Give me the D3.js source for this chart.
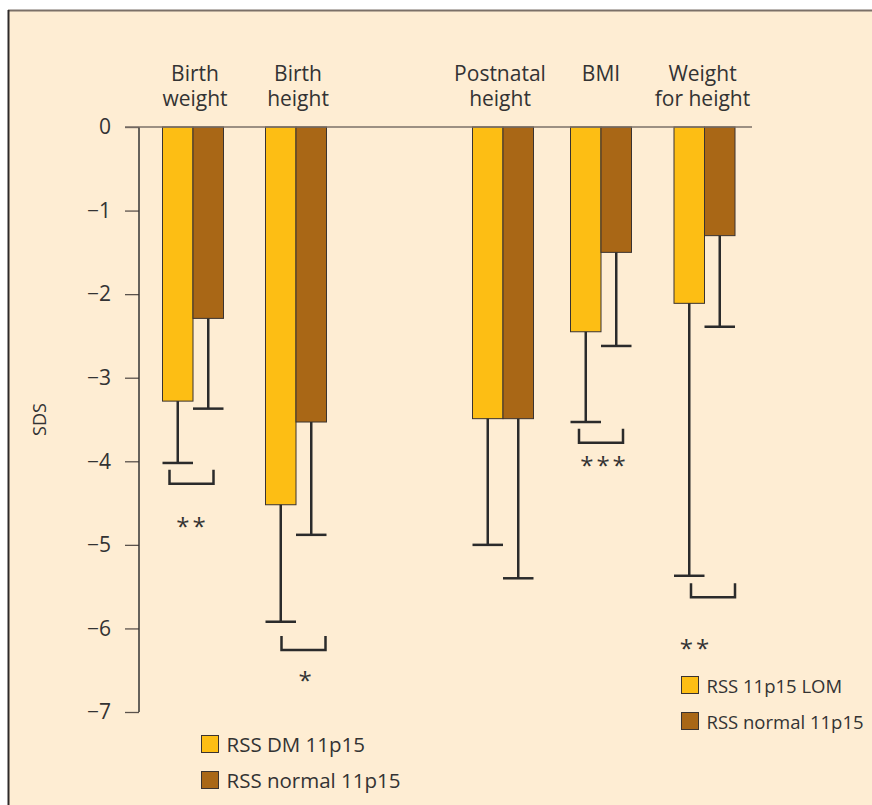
<!DOCTYPE html>
<html>
<head>
<meta charset="utf-8">
<script src="https://cdn.jsdelivr.net/npm/d3@7"></script>
<style>
  html, body { margin: 0; padding: 0; background: #ffffff; }
  svg { display: block; }
  text { font-family: "Open Sans", "Noto Sans", sans-serif; fill: #333333; }
</style>
</head>
<body>
<svg id="chart" width="872" height="805"></svg>
<script>
// Mean SDS with error bars (mean - SD) for two RSS groups per parameter
const categories = ["Birth weight", "Birth height", "Postnatal height", "BMI", "Weight for height"];
const categoryLines = [["Birth", "weight"], ["Birth", "height"], ["Postnatal", "height"], ["BMI"], ["Weight", "for height"]];
const meanDM = [-3.28, -4.52, -3.49, -2.45, -2.11];
const errDM = [-4.02, -5.92, -5.00, -3.53, -5.37];
const meanNormal = [-2.29, -3.53, -3.49, -1.50, -1.30];
const errNormal = [-3.37, -4.88, -5.40, -2.62, -2.39];
const yTicks = [0, -1, -2, -3, -4, -5, -6, -7];
// significance markers: category, stars, bracket level (SDS), star level (SDS)
const sigCategory = ["Birth weight", "Birth height", "BMI", "Weight for height"];
const sigStars = ["**", "*", "***", "**"];
const sigBracket = [-4.10, -6.09, -3.61, -5.46];
const sigStarLevel = [-4.71, -6.56, -3.98, -6.17];
const legendLeft = ["RSS DM 11p15", "RSS normal 11p15"];
const legendRight = ["RSS 11p15 LOM", "RSS normal 11p15"];

const colDM = "#FDBE14";
const colNormal = "#A96716";
const ink = "#2b2b2b";

const svg = d3.select("#chart");

// panel background and frame
svg.append("rect").attr("x", 8).attr("y", 10).attr("width", 900).attr("height", 900)
  .attr("fill", "#FEEDD3");
svg.append("line").attr("x1", 8).attr("x2", 872).attr("y1", 10.5).attr("y2", 10.5)
  .attr("stroke", "#7b7068").attr("stroke-width", 2);
svg.append("line").attr("x1", 8.5).attr("x2", 8.5).attr("y1", 10).attr("y2", 805)
  .attr("stroke", "#2e2a2a").attr("stroke-width", 2);

const y = d3.scaleLinear().domain([0, -7]).range([127, 712]);
// group centres; birth and postnatal parameters are set apart by a wider gap
const x = d3.scaleOrdinal().domain(categories).range([193, 296, 503, 601, 704.5]);
const barW = 30.5;

// y axis
const yAxis = d3.axisLeft(y).tickValues(yTicks).tickSize(14).tickPadding(14)
  .tickFormat(d => d === 0 ? "0" : "\u2212" + Math.abs(d));
const gAxis = svg.append("g").attr("transform", "translate(139,0)").call(yAxis);
gAxis.select(".domain").remove();
gAxis.selectAll(".tick line").attr("stroke", "#5a524c").attr("stroke-width", 1.3);
gAxis.selectAll(".tick text").attr("font-size", 21).attr("fill", "#333");
svg.append("line").attr("x1", 139).attr("x2", 139).attr("y1", y(0)).attr("y2", y(-7))
  .attr("stroke", "#333").attr("stroke-width", 1.5);

svg.append("text").attr("transform", `translate(46,${(y(0) + y(-7)) / 2}) rotate(-90)`)
  .attr("text-anchor", "middle").attr("font-size", 18).text("SDS");

// bars
const series = [
  { mean: meanDM, err: errDM, color: colDM, off: -barW / 2 },
  { mean: meanNormal, err: errNormal, color: colNormal, off: barW / 2 }
];
series.forEach(s => {
  const g = svg.append("g");
  g.selectAll("rect").data(categories).join("rect")
    .attr("x", (c) => x(c) + s.off - barW / 2)
    .attr("y", y(0))
    .attr("width", barW)
    .attr("height", (c, i) => y(s.mean[i]) - y(0))
    .attr("fill", s.color).attr("stroke", "#3a3330").attr("stroke-width", 1);
  // error whiskers
  g.selectAll("line.v").data(categories).join("line").attr("class", "v")
    .attr("x1", c => x(c) + s.off).attr("x2", c => x(c) + s.off)
    .attr("y1", (c, i) => y(s.mean[i])).attr("y2", (c, i) => y(s.err[i]))
    .attr("stroke", ink).attr("stroke-width", 2.5);
  g.selectAll("line.cap").data(categories).join("line").attr("class", "cap")
    .attr("x1", c => x(c) + s.off - barW / 2).attr("x2", c => x(c) + s.off + barW / 2)
    .attr("y1", (c, i) => y(s.err[i])).attr("y2", (c, i) => y(s.err[i]))
    .attr("stroke", ink).attr("stroke-width", 2.5);
});

// zero line
svg.append("line").attr("x1", 125).attr("x2", 752).attr("y1", y(0)).attr("y2", y(0))
  .attr("stroke", "#7b7068").attr("stroke-width", 1.5);

// category labels (two-line headings above each pair of bars)
const labelShift = [2, 2, -3, 0, -2];
categories.forEach((c, i) => {
  categoryLines[i].forEach((l, j) => {
    svg.append("text").attr("text-anchor", "middle").attr("font-size", 21)
      .attr("x", x(c) + labelShift[i]).attr("y", 81 + j * 25).text(l);
  });
});

// significance brackets and stars
const bracketShift = [-1.5, 7.5, 0, 8.5];
const starShift = [-2, 9, 2, -10];
const bracketHalf = 22;
sigCategory.forEach((c, i) => {
  const cx = x(c) + bracketShift[i];
  const top = y(sigBracket[i]);
  svg.append("path")
    .attr("d", `M${cx - bracketHalf},${top} V${top + 14} H${cx + bracketHalf} V${top}`)
    .attr("fill", "none").attr("stroke", ink).attr("stroke-width", 2.5);
  svg.append("text").attr("text-anchor", "middle").attr("font-size", 24)
    .attr("letter-spacing", 3)
    .attr("x", x(c) + starShift[i] + 1.5).attr("y", y(sigStarLevel[i]) + 14)
    .text(sigStars[i]);
});

// legends
function legend(items, x0, y0, fs) {
  const colors = [colDM, colNormal];
  items.forEach((t, i) => {
    svg.append("rect").attr("x", x0).attr("y", y0 + i * 36).attr("width", 17).attr("height", 17)
      .attr("fill", colors[i]).attr("stroke", "#3a3330").attr("stroke-width", 1);
    svg.append("text").attr("x", x0 + 25).attr("y", y0 + i * 36 + 16)
      .attr("font-size", fs).text(t);
  });
}
legend(legendLeft, 201.5, 735.5, 20.5);
legend(legendRight, 681.5, 676.5, 18.5);
</script>
</body>
</html>
